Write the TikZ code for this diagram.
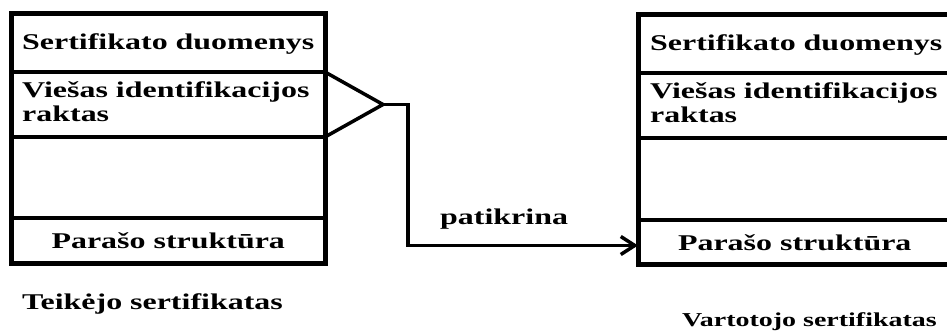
\documentclass[tikz,border=0pt]{standalone}
\usepackage{fontspec}
\usetikzlibrary{arrows.meta,positioning}
\newfontfamily\wideSerif[FakeStretch=1.42]{Liberation Serif}

\begin{document}
\begin{tikzpicture}[x=1pt,y=1pt,
  every node/.style={font=\wideSerif\bfseries\fontsize{22.5}{24}\selectfont,inner sep=0pt},
  cell/.style={draw,line width=3.5pt,minimum width=313.5pt,outer sep=0pt},
  frame/.style={line width=5pt},
  link/.style={line width=3.5pt}]
\useasboundingbox (0,0) rectangle (947,331);
\clip (0,0) rectangle (947,331);
% teikejo sertifikatas
\node[cell,minimum height=58pt,anchor=north west] (a1) at (11.5,317) {};
\node[cell,minimum height=65pt,below=0pt of a1] (a2) {};
\node[cell,minimum height=81pt,below=0pt of a2] (a3) {};
\node[cell,minimum height=46pt,below=0pt of a3] (a4) {Parašo struktūra};
\draw[frame] (a1.north west) rectangle (a4.south east);
\node[anchor=base west] (a1t) at (22,281) {Sertifikato duomenys};
\node[anchor=north west,align=left] (a2t) at (22,249.5) {Viešas identifikacijos\\raktas};
\node[anchor=base west] (at) at (22,21) {Teikėjo sertifikatas};
% vartotojo sertifikatas
\node[cell,minimum height=58pt,anchor=north west] (b1) at (638,316) {};
\node[cell,minimum height=65pt,below=0pt of b1] (b2) {};
\node[cell,minimum height=82pt,below=0pt of b2] (b3) {};
\node[cell,minimum height=45pt,below=0pt of b3] (b4) {Parašo struktūra};
\draw[frame] (b1.north west) rectangle (b4.south east);
\node[anchor=base west] (b1t) at (650,280) {Sertifikato duomenys};
\node[anchor=north west,align=left] (b2t) at (650,248.5) {Viešas identifikacijos\\raktas};
\node[anchor=base west,font=\wideSerif\bfseries\fontsize{19.7}{22}\selectfont] (bt) at (682,4) {Vartotojo sertifikatas};
% raktas -> parasas
\coordinate[right=58pt of a2.east] (uz);
\draw[link] (a2.north east) -- (uz) -- (a2.south east);
\draw[link,-{Straight Barb[length=14pt,width=18pt]}] (uz) -- ++(25,0) |- ([yshift=-3pt]b4.west);
\node[anchor=base west] (pt) at (440,106) {patikrina};
\end{tikzpicture}
\end{document}
